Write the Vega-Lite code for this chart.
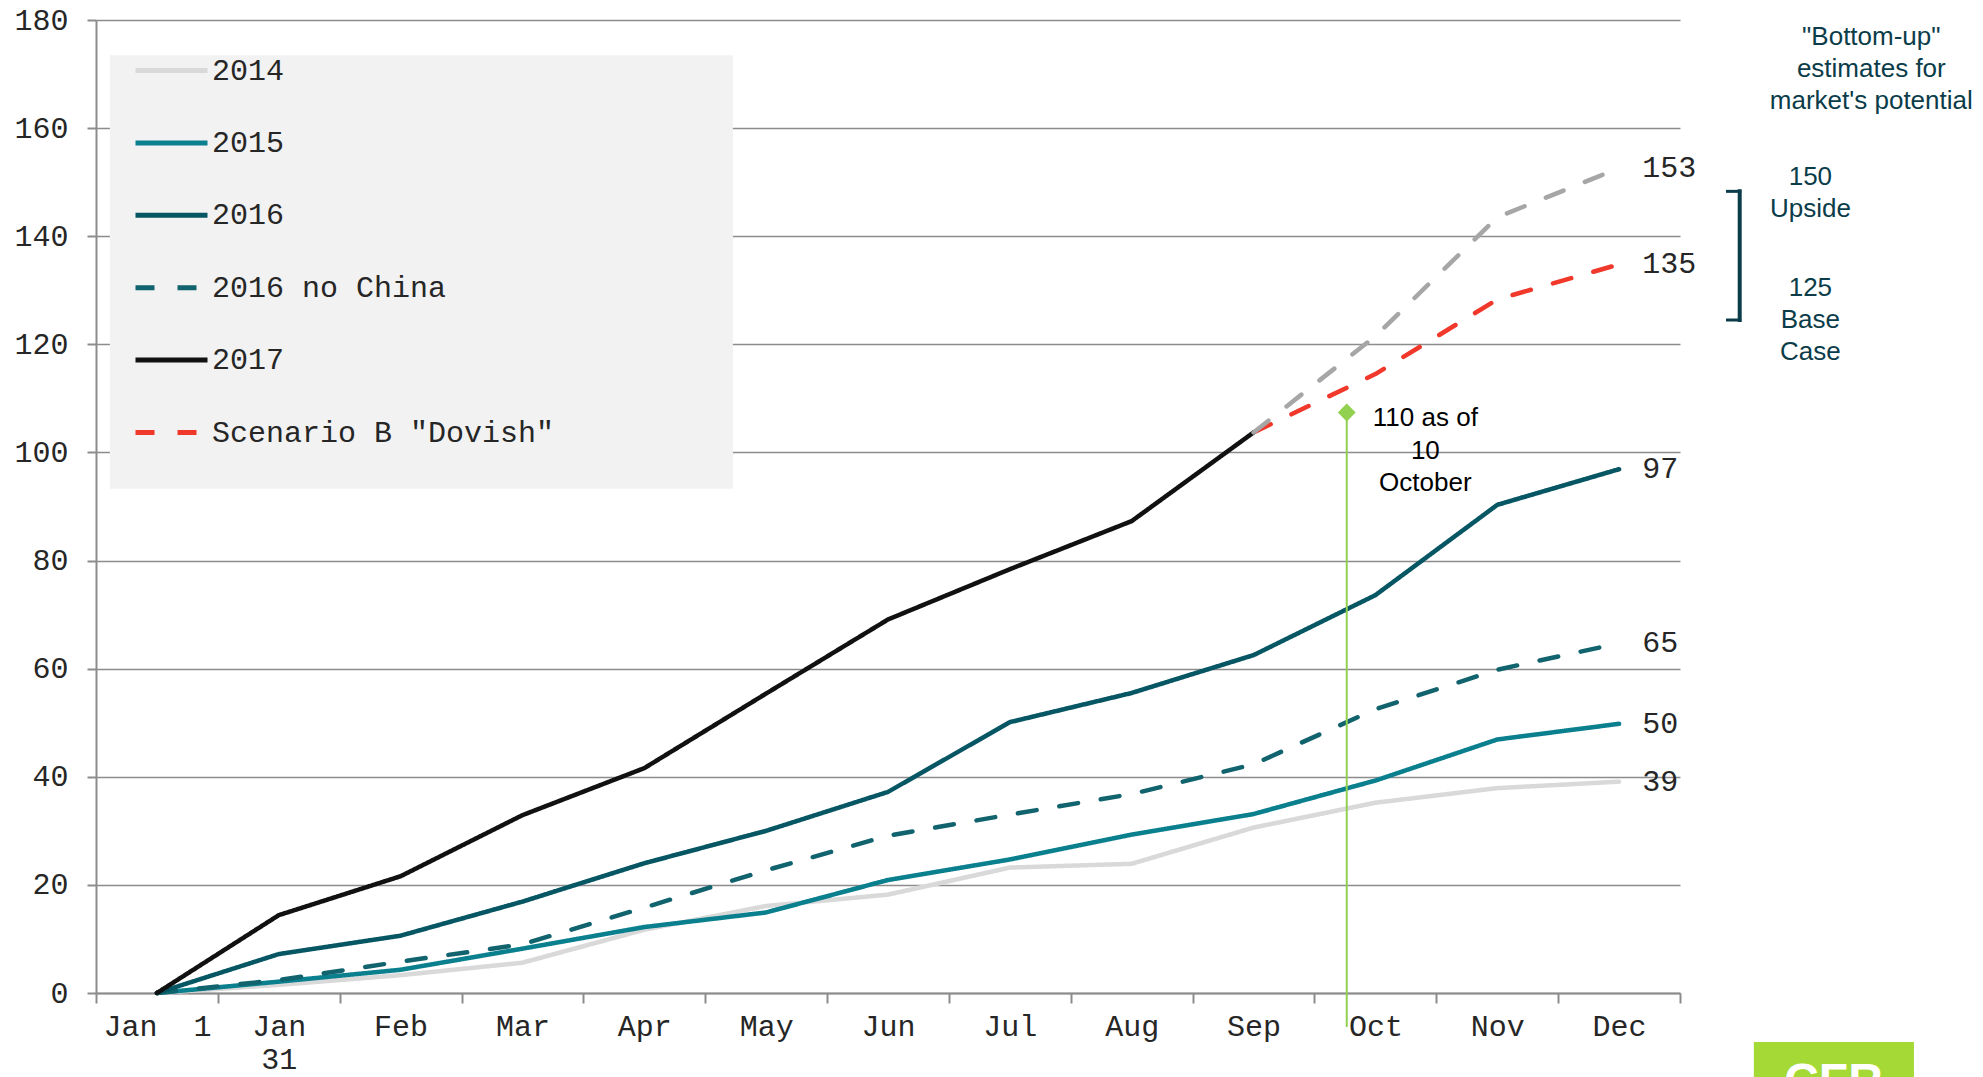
{
  "$schema": "https://vega.github.io/schema/vega-lite/v6.json",
  "width": 1584,
  "height": 973,
  "autosize": {"type": "none"},
  "padding": {"left": 96, "top": 20, "right": 303, "bottom": 84},
  "background": "white",
  "config": {
    "view": {"stroke": null},
    "font": "Liberation Sans",
    "axis": {
      "labelFont": "Liberation Mono",
      "labelFontSize": 30,
      "labelColor": "#262626",
      "domainColor": "#8c8c8c",
      "domainWidth": 2,
      "tickColor": "#8c8c8c",
      "tickWidth": 2,
      "gridColor": "#8c8c8c",
      "gridWidth": 1.5
    }
  },
  "datasets": {
    "lines": [
      {"s": "2014", "i": 0, "v": 0}, {"s": "2014", "i": 1, "v": 1.5}, {"s": "2014", "i": 2, "v": 3.3}, {"s": "2014", "i": 3, "v": 5.6}, {"s": "2014", "i": 4, "v": 11.7}, {"s": "2014", "i": 5, "v": 16.1}, {"s": "2014", "i": 6, "v": 18.2}, {"s": "2014", "i": 7, "v": 23.2}, {"s": "2014", "i": 8, "v": 23.9}, {"s": "2014", "i": 9, "v": 30.6}, {"s": "2014", "i": 10, "v": 35.2}, {"s": "2014", "i": 11, "v": 37.9}, {"s": "2014", "i": 12, "v": 39.1},
      {"s": "2015", "i": 0, "v": 0}, {"s": "2015", "i": 1, "v": 2.1}, {"s": "2015", "i": 2, "v": 4.3}, {"s": "2015", "i": 3, "v": 8.2}, {"s": "2015", "i": 4, "v": 12.2}, {"s": "2015", "i": 5, "v": 14.9}, {"s": "2015", "i": 6, "v": 20.9}, {"s": "2015", "i": 7, "v": 24.7}, {"s": "2015", "i": 8, "v": 29.3}, {"s": "2015", "i": 9, "v": 33.1}, {"s": "2015", "i": 10, "v": 39.3}, {"s": "2015", "i": 11, "v": 46.9}, {"s": "2015", "i": 12, "v": 49.8},
      {"s": "2016 no China", "i": 0, "v": 0}, {"s": "2016 no China", "i": 1, "v": 2.4}, {"s": "2016 no China", "i": 2, "v": 5.8}, {"s": "2016 no China", "i": 3, "v": 9.0}, {"s": "2016 no China", "i": 4, "v": 15.8}, {"s": "2016 no China", "i": 5, "v": 22.7}, {"s": "2016 no China", "i": 6, "v": 29.1}, {"s": "2016 no China", "i": 7, "v": 33.0}, {"s": "2016 no China", "i": 8, "v": 36.8}, {"s": "2016 no China", "i": 9, "v": 42.3}, {"s": "2016 no China", "i": 10, "v": 52.5}, {"s": "2016 no China", "i": 11, "v": 59.8}, {"s": "2016 no China", "i": 12, "v": 64.7},
      {"s": "2016", "i": 0, "v": 0}, {"s": "2016", "i": 1, "v": 7.2}, {"s": "2016", "i": 2, "v": 10.6}, {"s": "2016", "i": 3, "v": 16.9}, {"s": "2016", "i": 4, "v": 24.0}, {"s": "2016", "i": 5, "v": 30.0}, {"s": "2016", "i": 6, "v": 37.2}, {"s": "2016", "i": 7, "v": 50.1}, {"s": "2016", "i": 8, "v": 55.5}, {"s": "2016", "i": 9, "v": 62.5}, {"s": "2016", "i": 10, "v": 73.6}, {"s": "2016", "i": 11, "v": 90.3}, {"s": "2016", "i": 12, "v": 96.9},
      {"s": "Upside", "i": 9, "v": 103.7}, {"s": "Upside", "i": 10, "v": 121.5}, {"s": "Upside", "i": 11, "v": 143.5}, {"s": "Upside", "i": 12, "v": 152.6},
      {"s": "Scenario B \"Dovish\"", "i": 9, "v": 103.7}, {"s": "Scenario B \"Dovish\"", "i": 10, "v": 114.5}, {"s": "Scenario B \"Dovish\"", "i": 11, "v": 128.3}, {"s": "Scenario B \"Dovish\"", "i": 12, "v": 134.8},
      {"s": "2017", "i": 0, "v": 0}, {"s": "2017", "i": 1, "v": 14.4}, {"s": "2017", "i": 2, "v": 21.6}, {"s": "2017", "i": 3, "v": 32.9}, {"s": "2017", "i": 4, "v": 41.6}, {"s": "2017", "i": 5, "v": 55.4}, {"s": "2017", "i": 6, "v": 69.1}, {"s": "2017", "i": 7, "v": 78.4}, {"s": "2017", "i": 8, "v": 87.3}, {"s": "2017", "i": 9, "v": 103.7}
    ]
  },
  "data": {"name": "lines"},
  "layer": [
    {
      "transform": [{"filter": "datum.s !== 'Upside'"}],
      "mark": {"type": "line", "strokeWidth": 4.5, "strokeCap": "round", "strokeJoin": "round"},
      "encoding": {
        "x": {
          "field": "i", "type": "quantitative", "title": null,
          "scale": {"domain": [-0.5, 12.5], "nice": false, "zero": false},
          "axis": {
            "values": [-0.5, 0, 0.5, 1, 1.5, 2, 2.5, 3, 3.5, 4, 4.5, 5, 5.5, 6, 6.5, 7, 7.5, 8, 8.5, 9, 9.5, 10, 10.5, 11, 11.5, 12, 12.5],
            "labelExpr": "datum.value % 1 !== 0 ? '' : ['Jan\u00a0\u00a01', ['Jan', '31'], 'Feb', 'Mar', 'Apr', 'May', 'Jun', 'Jul', 'Aug', 'Sep', 'Oct', 'Nov', 'Dec'][datum.value]",
            "labelOverlap": false,
            "labelFlush": false,
            "labelLineHeight": 33,
            "labelPadding": 8,
            "tickSize": 10,
            "tickOpacity": {"condition": {"test": "datum.value % 1 === 0", "value": 0}, "value": 1},
            "grid": false
          }
        },
        "y": {
          "field": "v", "type": "quantitative", "title": null,
          "scale": {"domain": [0, 180], "nice": false},
          "axis": {"values": [0, 20, 40, 60, 80, 100, 120, 140, 160, 180], "tickSize": 9, "labelPadding": 19, "grid": true}
        },
        "color": {
          "field": "s", "type": "nominal",
          "scale": {"domain": ["2014", "2015", "2016", "2016 no China", "2017", "Scenario B \"Dovish\""], "range": ["#d9d9d9", "#0a7f8e", "#075664", "#11636e", "#111111", "#f0392b"]},
          "legend": {"title": null, "orient": "none", "legendX": 37, "legendY": 12, "symbolType": "stroke", "symbolSize": 5184, "symbolStrokeWidth": 5, "labelFont": "Liberation Mono", "labelFontSize": 30, "labelColor": "#262626", "labelOffset": 2, "rowPadding": 18.4, "padding": 0, "labelLimit": 600}
        },
        "strokeDash": {
          "field": "s", "type": "nominal",
          "scale": {"domain": ["2014", "2015", "2016", "2016 no China", "2017", "Scenario B \"Dovish\""], "range": [[1, 0], [1, 0], [1, 0], [19, 23], [1, 0], [19, 23]]},
          "legend": {"title": null, "orient": "none", "legendX": 37, "legendY": 12, "symbolType": "stroke", "symbolSize": 5184, "symbolStrokeWidth": 5, "labelFont": "Liberation Mono", "labelFontSize": 30, "labelColor": "#262626", "labelOffset": 2, "rowPadding": 18.4, "padding": 0, "labelLimit": 600}
        },
        "order": {"field": "i"}
      }
    },
    {
      "data": {"values": [{}]},
      "mark": {"type": "rect", "color": "#f2f2f2"},
      "encoding": {
        "x": {"datum": -0.386, "title": null},
        "x2": {"datum": 4.727},
        "y": {"datum": 173.5, "title": null},
        "y2": {"datum": 93.3}
      }
    },
    {
      "transform": [{"filter": "datum.s === 'Upside'"}],
      "mark": {"type": "line", "strokeWidth": 4.5, "strokeCap": "round", "strokeJoin": "round", "color": "#a6a6a6", "strokeDash": [19, 23]},
      "encoding": {
        "x": {"field": "i", "type": "quantitative", "title": null},
        "y": {"field": "v", "type": "quantitative", "title": null},
        "order": {"field": "i"}
      }
    },
    {
      "transform": [{"filter": "datum.i === 12"}],
      "mark": {"type": "text", "align": "left", "baseline": "middle", "font": "Liberation Mono", "fontSize": 30, "color": "#262626"},
      "encoding": {
        "x": {"datum": 12.19, "title": null},
        "y": {"field": "v", "type": "quantitative", "title": null},
        "text": {"field": "v", "type": "quantitative", "format": ".0f"}
      }
    },
    {
      "data": {"values": [{}]},
      "mark": {"type": "rule", "color": "#92d050", "strokeWidth": 2},
      "encoding": {
        "x": {"datum": 9.765, "title": null},
        "y": {"datum": 107.4, "title": null},
        "y2": {"datum": -6.3}
      }
    },
    {
      "data": {"values": [{}]},
      "mark": {"type": "point", "shape": "diamond", "filled": true, "size": 320, "color": "#92d050", "opacity": 1},
      "encoding": {
        "x": {"datum": 9.765, "title": null},
        "y": {"datum": 107.4, "title": null}
      }
    },
    {
      "data": {"values": [{}]},
      "mark": {"type": "text", "align": "center", "baseline": "middle", "font": "Liberation Sans", "fontSize": 26, "lineHeight": 32.5, "color": "#000000", "text": ["110 as of", "10", "October"]},
      "encoding": {
        "x": {"datum": 10.41, "title": null},
        "y": {"datum": 106.3, "title": null}
      }
    },
    {
      "data": {"values": [{}]},
      "mark": {"type": "text", "align": "center", "baseline": "middle", "font": "Liberation Sans", "fontSize": 26, "lineHeight": 32, "color": "#0b3c49", "text": ["\"Bottom-up\"", "estimates for", "market's potential"]},
      "encoding": {
        "x": {"datum": 14.07, "title": null},
        "y": {"datum": 176.8, "title": null}
      }
    },
    {
      "data": {"values": [{}]},
      "mark": {"type": "text", "align": "center", "baseline": "middle", "font": "Liberation Sans", "fontSize": 26, "lineHeight": 32, "color": "#0b3c49", "text": ["150", "Upside"]},
      "encoding": {
        "x": {"datum": 13.57, "title": null},
        "y": {"datum": 150.9, "title": null}
      }
    },
    {
      "data": {"values": [{}]},
      "mark": {"type": "text", "align": "center", "baseline": "middle", "font": "Liberation Sans", "fontSize": 26, "lineHeight": 32, "color": "#0b3c49", "text": ["125", "Base", "Case"]},
      "encoding": {
        "x": {"datum": 13.57, "title": null},
        "y": {"datum": 130.5, "title": null}
      }
    },
    {
      "data": {"values": [{}]},
      "mark": {"type": "rule", "color": "#0b3c49", "strokeWidth": 4, "strokeCap": "square"},
      "encoding": {
        "x": {"datum": 12.99, "title": null},
        "y": {"datum": 148.3, "title": null},
        "y2": {"datum": 124.5}
      }
    },
    {
      "data": {"values": [{}]},
      "mark": {"type": "rule", "color": "#0b3c49", "strokeWidth": 3, "strokeCap": "square"},
      "encoding": {
        "x": {"datum": 12.89, "title": null},
        "x2": {"datum": 12.99},
        "y": {"datum": 148.3, "title": null}
      }
    },
    {
      "data": {"values": [{}]},
      "mark": {"type": "rule", "color": "#0b3c49", "strokeWidth": 3, "strokeCap": "square"},
      "encoding": {
        "x": {"datum": 12.89, "title": null},
        "x2": {"datum": 12.99},
        "y": {"datum": 124.5, "title": null}
      }
    },
    {
      "data": {"values": [{}]},
      "mark": {"type": "rect", "color": "#a5d936"},
      "encoding": {
        "x": {"datum": 13.106, "title": null},
        "x2": {"datum": 14.42},
        "y": {"datum": -9.07, "title": null},
        "y2": {"datum": -20}
      }
    },
    {
      "data": {"values": [{}]},
      "mark": {"type": "text", "align": "center", "baseline": "top", "font": "Liberation Sans", "fontSize": 48, "fontWeight": "bold", "color": "#ffffff", "text": "CFR"},
      "encoding": {
        "x": {"datum": 13.76, "title": null},
        "y": {"datum": -12.3, "title": null}
      }
    }
  ]
}
